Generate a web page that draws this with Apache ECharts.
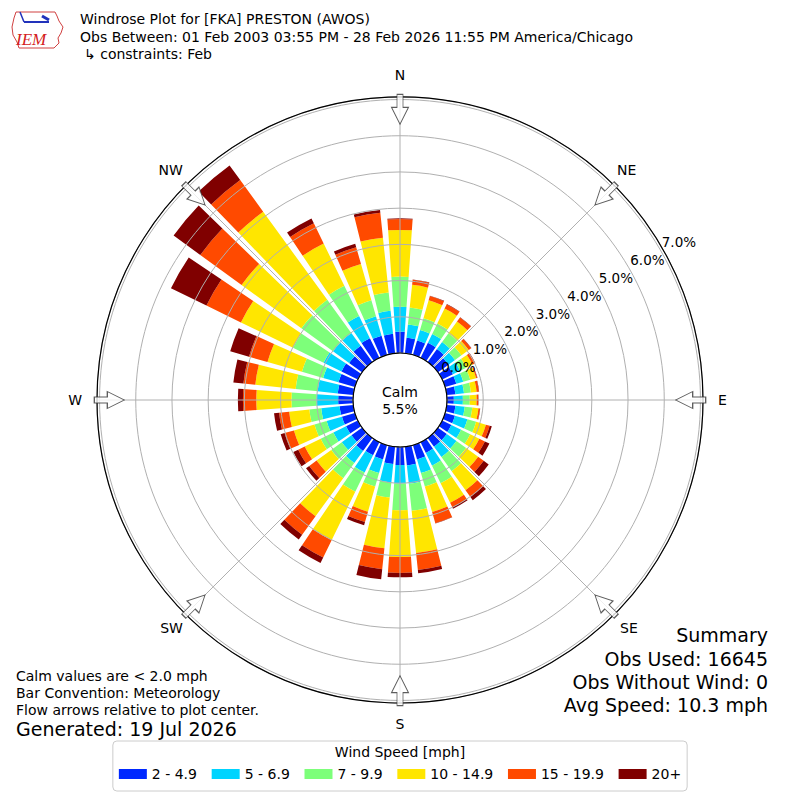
<!DOCTYPE html>
<html><head><meta charset="utf-8">
<script src="https://cdn.jsdelivr.net/npm/echarts@6/dist/echarts.min.js"></script>
<style>html,body{margin:0;padding:0;background:#fff}#c{width:800px;height:800px}</style>
</head><body><div id="c"></div>
<script>
// 36 direction bins (degrees, meteorological convention)
const directions = ['0°','10°','20°','30°','40°','50°','60°','70°','80°','90°','100°','110°','120°','130°','140°','150°','160°','170°',
  '180°','190°','200°','210°','220°','230°','240°','250°','260°','270°','280°','290°','300°','310°','320°','330°','340°','350°'];
const speedBins = ['2 - 4.9','5 - 6.9','7 - 9.9','10 - 14.9','15 - 19.9','20+'];
const speedColors = ['#0028ff','#00d4ff','#7dff7a','#ffe600','#ff4a00','#800000'];
// frequency (%) per direction for each speed bin
const spd2to5   = [0.59,0.43,0.41,0.46,0.44,0.36,0.33,0.32,0.24,0.19,0.24,0.28,0.28,0.30,0.30,0.33,0.41,0.52,0.50,0.48,0.41,0.40,0.44,0.36,0.36,0.37,0.38,0.41,0.43,0.47,0.50,0.44,0.55,0.60,0.55,0.54];
const spd5to7   = [0.69,0.37,0.30,0.27,0.24,0.22,0.22,0.20,0.24,0.25,0.26,0.36,0.30,0.33,0.35,0.39,0.39,0.51,0.51,0.51,0.39,0.53,0.41,0.33,0.39,0.44,0.51,0.60,0.56,0.44,0.55,0.55,0.44,0.68,0.56,0.64];
const spd7to10  = [0.83,0.47,0.34,0.32,0.30,0.22,0.19,0.20,0.19,0.19,0.21,0.25,0.28,0.33,0.48,0.54,0.39,0.75,0.74,0.42,0.39,0.59,0.52,0.36,0.39,0.35,0.33,0.69,0.61,0.61,0.94,1.08,1.13,0.93,0.46,0.51];
const spd10to15 = [1.29,0.63,0.52,0.46,0.40,0.25,0.19,0.17,0.16,0.19,0.17,0.28,0.28,0.41,0.65,0.60,0.73,1.17,1.29,1.41,0.72,1.49,1.30,0.50,0.49,0.59,0.56,0.97,1.12,0.99,1.60,2.04,3.01,1.30,1.04,1.52];
const spd15to20 = [0.30,0.14,0.12,0.13,0.14,0.08,0.08,0.03,0.06,0.04,0.04,0.11,0.17,0.19,0.23,0.14,0.32,0.47,0.44,0.58,0.30,0.53,0.63,0.25,0.20,0.27,0.28,0.37,0.33,0.53,1.06,1.41,1.08,0.62,0.48,0.69];
const spd20plus = [0.02,0.01,0.01,0.01,0.01,0.01,0.01,0.01,0.01,0.01,0.01,0.06,0.14,0.17,0.11,0.04,0.01,0.09,0.12,0.28,0.09,0.17,0.16,0.11,0.15,0.11,0.14,0.14,0.28,0.54,1.09,0.91,0.50,0.15,0.10,0.08];
const speedSeries = [spd2to5, spd5to7, spd7to10, spd10to15, spd15to20, spd20plus];
const compassLabels = ['N','NE','E','SE','S','SW','W','NW'];
const compassDegrees = [0,45,90,135,180,225,270,315];
const compassPadding = [[0,0,11,0],[0,0,6,0],[0,0,0,11],[4,0,0,3],[10,0,0,0],[4,0,0,0],[0,11,0,0],[0,0,6,0]];
const radialMax = 7.07;
const calmText = 'Calm\n5.5%';

const FONT = 'DejaVu Sans';
const chart = echarts.init(document.getElementById('c'), null, {renderer: 'svg'});

const barSeries = speedSeries.map((arr, i) => ({
  name: speedBins[i], type: 'bar', coordinateSystem: 'polar', polarIndex: 0,
  stack: 'wind', data: arr, barCategoryGap: '20%',
  itemStyle: {color: speedColors[i]}, z: 2, silent: true
}));

const arrowSeries = {
  type: 'scatter', coordinateSystem: 'polar', polarIndex: 1, silent: true, z: 6,
  symbol: 'path://M6,0 L12,0 L12,13 L17.5,13 L9,30 L0.5,13 L6,13 Z',
  symbolSize: [17, 30],
  itemStyle: {color: '#ffffff', borderColor: '#333333', borderWidth: 1},
  data: compassLabels.map((c, i) => ({value: [6.73, i], symbolRotate: -compassDegrees[i]}))
};

function txt(text, x, y, size, align, extra) {
  return Object.assign({type: 'text', z: 100, silent: true,
    style: {text: text, x: x, y: y, fill: '#000', font: size + 'px "' + FONT + '"',
      textAlign: align || 'left', textVerticalAlign: 'middle'}}, extra || {});
}

const option = {
  backgroundColor: '#ffffff',
  animation: false,
  textStyle: {fontFamily: FONT},
  polar: [
    {center: [400, 400], radius: [47, 303]},
    {center: [400, 400], radius: [47, 303]},
    {center: [400, 400], radius: [67, 323]}
  ],
  angleAxis: [
    {polarIndex: 0, type: 'category', data: directions, startAngle: 95, clockwise: true, z: 5,
      axisLine: {show: true, lineStyle: {color: '#000', width: 1.2}},
      axisTick: {show: false}, axisLabel: {show: false}, splitLine: {show: false}},
    {polarIndex: 1, type: 'category', boundaryGap: false, startAngle: 90, clockwise: true, z: 5,
      data: compassLabels.map((c, i) => ({value: c, textStyle: {padding: compassPadding[i], color: '#000', fontSize: 14, fontFamily: FONT}})),
      axisLine: {show: false}, axisTick: {show: false},
      axisLabel: {show: true, interval: 0, margin: 4, color: '#000', fontSize: 14, fontFamily: FONT},
      splitLine: {show: true, interval: 0, lineStyle: {color: '#b0b0b0', width: 1}}},
    {polarIndex: 2, type: 'value', show: false, startAngle: 29.5, min: 0, max: 360}
  ],
  radiusAxis: [
    {polarIndex: 0, type: 'value', min: 0, max: radialMax, interval: 1, z: 5,
      axisLine: {show: false}, axisTick: {show: false}, axisLabel: {show: false},
      splitLine: {show: true, lineStyle: {color: '#b0b0b0', width: 1}}},
    {polarIndex: 1, type: 'value', min: 0, max: radialMax, show: false},
    {polarIndex: 2, type: 'value', min: 0, max: radialMax, interval: 1, z: 10,
      axisLine: {show: false}, axisTick: {show: false}, splitLine: {show: false},
      axisLabel: {show: true, margin: 0, align: 'center', verticalAlign: 'middle', color: '#000', fontSize: 13.5, fontFamily: FONT,
        formatter: v => (Math.abs(v - Math.round(v)) < 1e-6 ? v.toFixed(1) + '%' : '')}}
  ],
  legend: {
    data: speedBins, left: 'center', top: 741, orient: 'horizontal', icon: 'rect',
    itemWidth: 28, itemHeight: 10, itemGap: 14.7, padding: [26, 6, 10, 6],
    borderColor: '#cccccc', borderWidth: 1, borderRadius: 4, backgroundColor: '#ffffff',
    textStyle: {fontSize: 14, color: '#000', fontFamily: FONT}, selectedMode: false
  },
  graphic: [
    // IEM logo (decorative)
    {type: 'polyline', z: 100, silent: true, shape: {points: [[16,12],[55,12],[57,16],[59,21],[63,27],[61,33],[58,38],[59,43],[54,48],[19,48],[17,42],[13,35],[12,27],[14,18],[16,12]]},
      style: {stroke: '#d04040', lineWidth: 1, fill: null}},
    {type: 'line', z: 100, silent: true, shape: {x1: 24, y1: 22, x2: 49, y2: 22}, style: {stroke: '#2233bb', lineWidth: 2}},
    {type: 'line', z: 100, silent: true, shape: {x1: 42, y1: 16, x2: 49, y2: 20}, style: {stroke: '#2233bb', lineWidth: 3}},
    {type: 'line', z: 100, silent: true, shape: {x1: 20, y1: 12, x2: 24, y2: 22}, style: {stroke: '#2233bb', lineWidth: 1.5}},
    {type: 'text', z: 100, silent: true, style: {text: 'IEM', x: 16, y: 39, fill: '#d42020', font: 'italic 17px "Liberation Serif"', textVerticalAlign: 'middle'}},
    // header
    txt('Windrose Plot for [FKA] PRESTON (AWOS)', 80, 19, 14),
    txt('Obs Between: 01 Feb 2003 03:55 PM - 28 Feb 2026 11:55 PM America/Chicago', 80, 37, 14),
    txt('\u21b3 constraints: Feb', 84, 54, 14),
    // calm
    {type: 'text', z: 100, silent: true, style: {text: calmText, x: 400, y: 400, fill: '#000', font: '14px "' + FONT + '"', textAlign: 'center', textVerticalAlign: 'middle', lineHeight: 17}},
    // footnotes
    txt('Calm values are < 2.0 mph', 16, 676, 14),
    txt('Bar Convention: Meteorology', 16, 693, 14),
    txt('Flow arrows relative to plot center.', 16, 710, 14),
    txt('Generated: 19 Jul 2026', 16, 729, 19),
    // summary
    txt('Summary', 768, 635, 19, 'right'),
    txt('Obs Used: 16645', 768, 659, 19, 'right'),
    txt('Obs Without Wind: 0', 768, 682, 19, 'right'),
    txt('Avg Speed: 10.3 mph', 768, 705, 19, 'right'),
    // legend title
    txt('Wind Speed [mph]', 400, 752, 14, 'center')
  ],
  series: barSeries.concat([arrowSeries])
};
chart.setOption(option);
</script></body></html>
